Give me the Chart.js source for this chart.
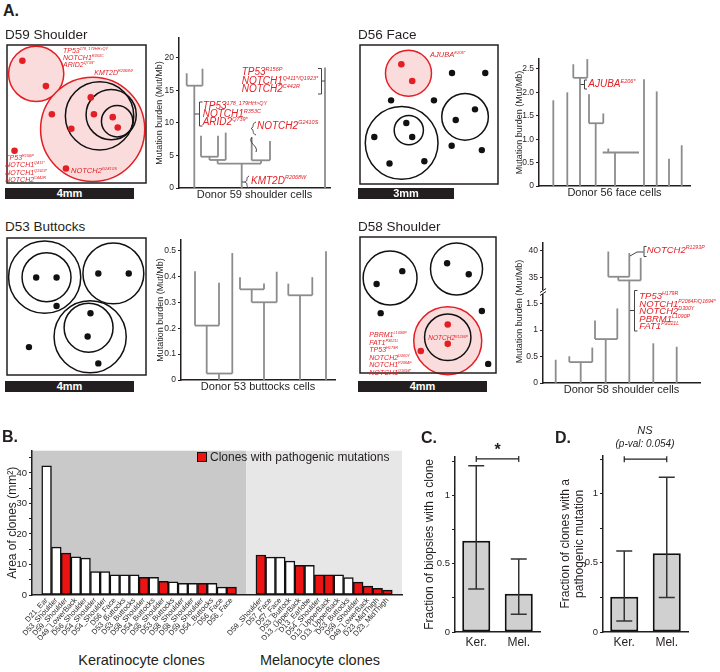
<!DOCTYPE html>
<html>
<head>
<meta charset="utf-8">
<title>Clone maps, mutation burden and clone sizes</title>
<script src="https://cdn.jsdelivr.net/npm/chart.js@4.4.1/dist/chart.umd.min.js"></script>
<style>
  body { margin: 0; background: #fff; }
  #page { position: relative; width: 720px; height: 672px; overflow: hidden;
          font-family: 'Liberation Sans', Arial, sans-serif; color: #231f20; }
  #page canvas { position: absolute; }
  .t { position: absolute; white-space: nowrap; }
  .g { position: absolute; white-space: nowrap; color: #e31e24; font-style: italic; }
  .s { font-size: 0.55em; position: relative; top: -0.75em; line-height: 0; }
  .sb { position: absolute; background: #231f20; color: #fff; font-weight: bold;
        font-size: 11px; text-align: center; }
  svg { position: absolute; left: 0; top: 0; }
</style>
</head>
<body>
<div id="page"></div>
<script>
// ---------------- Data --------------------------------------------------

// Panel A, clone maps: biopsy size (mm), clones [x, y, radius, pathogenic], cells [x, y]
const d59Size = [ 4.43, 4.40 ] ;
const d59Clones = [ [0.93,0.92,0.88,1], [2.73,2.69,1.66,1], [2.95,2.26,1.09,0], [3.32,2.22,0.80,0], [3.51,2.43,0.50,0] ] ;
const d59RedCells = [ [0.49,0.50], [1.24,1.31], [2.67,1.67], [1.43,2.21], [2.05,2.67], [2.77,2.21],
                      [3.37,2.30], [3.53,2.63], [1.88,3.94], [0.24,3.37] ] ;
const d59BlackCells = [] ;

const d56Size = [ 4.44, 4.47 ] ;
const d56Clones = [ [1.56,0.91,0.74,1], [1.34,3.15,1.17,0], [1.57,2.74,0.47,0], [3.38,2.31,0.75,0] ] ;
const d56RedCells = [ [1.33,0.62], [1.68,1.16] ] ;
const d56BlackCells = [ [2.96,0.90], [4.03,0.90], [1.00,1.78], [2.38,1.78], [3.70,2.07], [3.08,2.41], [1.49,2.51],
                        [1.68,2.96], [0.46,2.96], [2.95,3.24], [3.92,3.38], [0.95,3.81], [2.07,3.74] ] ;

const d53Size = [ 4.43, 4.37 ] ;
const d53Clones = [ [1.20,1.25,1.15,0], [1.26,1.25,0.78,0], [3.39,1.13,0.97,0], [2.65,3.15,1.15,0], [2.60,2.86,0.78,0] ] ;
const d53RedCells = [] ;
const d53BlackCells = [ [0.93,1.26], [1.58,1.26], [2.91,1.13], [3.88,1.13], [1.58,2.17], [2.66,2.40],
                        [2.57,3.14], [2.91,4.00], [0.70,3.48] ] ;

const d58Size = [ 4.34, 4.34 ] ;
const d58Clones = [ [0.96,1.31,0.86,0], [3.08,1.02,0.83,0], [2.80,3.31,1.085,1], [2.80,3.20,0.74,0] ] ;
const d58RedCells = [ [2.80,2.79], [2.80,3.41], [1.94,3.64] ] ;
const d58BlackCells = [ [1.35,1.09], [0.53,1.50], [2.78,0.84], [3.47,1.19], [0.66,2.43], [3.89,2.36], [4.09,4.05] ] ;

// Panel A, phylogenies: vertical branches [pos, from, to] and joins [burden, pos1, pos2] (Mut/Mb)
const d59Branches = [ [1.53,0,15.7], [0.77,15.7,17.6], [2.35,15.7,18.3],
                      [6.27,0,3.75], [3.86,3.75,4.3], [3.05,4.3,4.8], [2.2,4.8,8.0], [3.9,4.8,8.0], [4.67,4.3,8.5],
                      [8.2,3.75,4.25], [7.27,4.25,7.75], [9.1,4.25,7.2],
                      [14.6,0,18.5] ] ;
const d59Joins = [ [15.7,0.77,2.35], [3.75,3.86,8.2], [4.3,3.05,4.67], [4.8,2.2,3.9], [4.25,7.27,9.1] ] ;
const d59Ticks = [ 0, 5, 10, 15, 20 ] ;
const d59TickLabels = [ '0', '5', '10', '15', '20' ] ;

const d56Branches = [ [1.43,0,1.83], [2.83,0,2.0],
                      [4.1,0,2.31], [3.43,2.31,2.6], [4.83,2.31,2.71],
                      [5.67,0,1.34], [5.0,1.34,1.96], [6.43,1.34,1.55],
                      [7.6,0,0.715], [6.93,0.715,0.8],
                      [10.5,0,2.28], [11.77,0,2.02], [13.0,0,0.58], [14.27,0,0.87] ] ;
const d56Joins = [ [2.31,3.43,4.83], [1.34,5.0,6.43], [0.715,6.37,10.0] ] ;
const d56Ticks = [ 0, 0.5, 1, 1.5, 2, 2.5 ] ;
const d56TickLabels = [ '0', '0.5', '1.0', '1.5', '2.0', '2.5' ] ;

const d53Branches = [ [3.8,0,0.025], [5.13,0.025,0.49], [2.57,0.025,0.21], [1.4,0.21,0.42], [3.8,0.21,0.375],
                      [8.3,0,0.30], [9.57,0.30,0.418], [7.07,0.30,0.35], [5.9,0.35,0.397], [8.3,0.35,0.372],
                      [11.9,0,0.327], [10.73,0.327,0.372], [13.13,0.327,0.397],
                      [14.5,0,0.497] ] ;
const d53Joins = [ [0.025,2.57,5.13], [0.21,1.4,3.8], [0.30,7.07,9.57], [0.35,5.9,8.3], [0.327,10.73,13.13] ] ;
const d53Ticks = [ 0, 0.1, 0.2, 0.3, 0.4, 0.5 ] ;
const d53TickLabels = [ '0', '0.1', '0.2', '0.3', '0.4', '0.5' ] ;

const d58Branches = [ [1.27,0,0.44],
                      [3.77,0,0.395], [2.63,0.395,0.505], [4.93,0.395,0.67],
                      [6.27,0,0.83], [5.2,0.83,1.18], [7.43,0.83,1.41],
                      [8.63,0,34.4], [7.53,34.4,35.1], [6.53,35.1,39.9], [8.63,35.1,39.6], [9.77,34.4,38.7],
                      [11.03,0,0.75], [13.37,0,0.685] ] ;
const d58Joins = [ [0.395,2.63,4.93], [0.83,5.2,7.43], [34.4,7.53,9.77], [35.1,6.53,8.63] ] ;
const d58LowTicks = [ 0, 0.5, 1, 1.5 ] ;
const d58LowTickLabels = [ '0', '0.5', '1', '1.5' ] ;
const d58HighTicks = [ 35, 40 ] ;
const d58HighTickLabels = [ '35', '40' ] ;

// Panel B: clone areas (mm2)
const kerClones = [ 'D21_Ear', 'D53_Shoulder', 'D59_Shoulder', 'D49_LowerBack', 'D56_Shoulder', 'D54_Shoulder',
                    'D54_Shoulder', 'D56_Face', 'D53_Buttocks', 'D53_Buttocks', 'D58_Shoulder', 'D54_Buttocks',
                    'D56_Shoulder', 'D53_Buttocks', 'D58_Shoulder', 'D58_Shoulder', 'D59_Shoulder', 'D54_Buttocks',
                    'D56_Face', 'D56_Face' ] ;
const kerArea = [ 42.3, 15.7, 13.7, 12.5, 12.1, 7.7, 7.7, 6.6, 6.6, 6.6, 5.8, 5.8, 4.5, 4.3, 3.8, 3.8, 3.8, 3.8, 2.6, 2.6 ] ;
const kerPathogenic = [ 0, 0, 1, 0, 0, 0, 0, 0, 0, 0, 1, 0, 1, 0, 0, 0, 1, 0, 0, 1 ] ;
const melClones = [ 'D59_Shoulder', 'D57_Face', 'D57_Face', 'D53_Buttock', 'D13_UpperBack', 'D13_Earlobe',
                    'D54_Shoulder', 'D13_UpperBack', 'D13_UpperBack', 'D53_Buttocks', 'D59_Shoulder',
                    'D49_LowerBack', 'D23_MidThigh', 'D23_MidThigh' ] ;
const melArea = [ 13.1, 12.4, 12.4, 11.1, 9.7, 9.7, 6.6, 6.6, 6.6, 5.7, 4.2, 2.9, 2.2, 1.6 ] ;
const melPathogenic = [ 1, 0, 0, 0, 1, 0, 1, 1, 0, 0, 1, 1, 1, 1 ] ;
const areaTicks = [ 0, 5, 10, 15, 20, 25, 30, 35, 40, 45 ] ;
const areaTickLabels = [ '0', '', '10', '', '20', '', '30', '', '40', '' ] ;

// Panels C and D
const cellTypes = [ 'Ker.', 'Mel.' ] ;
const biopsyFrac = [ 0.67, 0.28 ] ;
const biopsyLow  = [ 0.315, 0.13 ] ;
const biopsyHigh = [ 1.22, 0.535 ] ;
const pathoFrac  = [ 0.255, 0.57 ] ;
const pathoLow   = [ 0.08, 0.25 ] ;
const pathoHigh  = [ 0.585, 1.12 ] ;
const fracTicks = [ 0, 0.25, 0.5, 0.75, 1, 1.25 ] ;
const fracTickLabels = [ '0', '', '0.5', '', '1', '' ] ;

// ---------------- Styles ------------------------------------------------
const INK  = '#231f20' ;
const RED  = '#e31e24' ;
const PINK = '#fbdcdc' ;
const TREE = '#8c8c8c' ;
const BAR_RED = '#ee1313' ;
const FONT = "'Liberation Sans', Arial, sans-serif" ;

Chart.defaults.font.family = FONT ;
Chart.defaults.color = INK ;
Chart.defaults.animation = false ;
Chart.defaults.plugins.legend.display = false ;
Chart.defaults.plugins.tooltip.enabled = false ;

const page = document.getElementById( 'page' ) ;

// canvas whose chart area lands on (L,T)-(R,B)
function frame( L, T, R, B, left, bottom, top, right ) {
    const c = document.createElement( 'canvas' ) ;
    const w = Math.round( R - L + left + right ) ;
    const h = Math.round( B - T + top + bottom ) ;
    c.width = w ; c.height = h ;
    c.style.left = ( L - left ) + 'px' ;
    c.style.top  = ( T - top ) + 'px' ;
    c.style.width = w + 'px' ; c.style.height = h + 'px' ;
    page.appendChild( c ) ;
    return c ;
}

function yAxis( min, max, ticks, labels, width, size, title, titleSize, extra ) {
    return Object.assign( {
        type : 'linear', position : 'left', min : min, max : max,
        afterBuildTicks : s => { s.ticks = ticks.map( v => ( { value : v } ) ) ; },
        afterFit : s => { s.width = width ; },
        ticks : { callback : ( v, i ) => labels[i], font : { size : size }, padding : 2, color : INK, autoSkip : false },
        grid : { drawOnChartArea : false, tickLength : 3, color : INK },
        border : { color : INK, width : 1.5 },
        title : title ? { display : true, text : title, font : { size : titleSize }, padding : 0, color : INK }
                      : { display : false }
    }, extra || {} ) ;
}

// ---------------- Clone maps --------------------------------------------
const clonePlugin = {
    id : 'clones',
    beforeDatasetsDraw( chart, args, opts ) {
        const { ctx, scales : { x, y } } = chart ;
        ctx.save() ;
        opts.clones.forEach( c => {
            const cx = x.getPixelForValue( c[0] ), cy = y.getPixelForValue( c[1] ) ;
            const r = x.getPixelForValue( c[0] + c[2] ) - cx ;
            ctx.beginPath() ;
            ctx.arc( cx, cy, r, 0, Math.PI * 2 ) ;
            if( c[3] ) { ctx.fillStyle = PINK ; ctx.fill() ; }
            ctx.lineWidth = 1.5 ;
            ctx.strokeStyle = c[3] ? RED : '#111' ;
            ctx.stroke() ;
        } ) ;
        ctx.restore() ;
    },
    afterDraw( chart ) {
        const { ctx, chartArea : a } = chart ;
        ctx.save() ;
        ctx.lineWidth = 1.5 ;
        ctx.strokeStyle = INK ;
        ctx.strokeRect( a.left, a.top, a.right - a.left, a.bottom - a.top ) ;
        ctx.restore() ;
    }
} ;

function cloneMap( L, T, R, B, size, clones, redCells, blackCells ) {
    const c = frame( L, T, R, B, 2, 2, 2, 2 ) ;
    const pts = a => a.map( p => ( { x : p[0], y : p[1] } ) ) ;
    new Chart( c, {
        type : 'scatter',
        data : { datasets : [
            { data : pts( blackCells ), backgroundColor : '#111', pointRadius : 3.2, borderWidth : 0 },
            { data : pts( redCells ), backgroundColor : RED, pointRadius : 3.3, borderWidth : 0 }
        ] },
        options : {
            responsive : false, devicePixelRatio : 1,
            layout : { padding : 2 },
            scales : {
                x : { type : 'linear', display : false, min : 0, max : size[0] },
                y : { type : 'linear', display : false, min : 0, max : size[1], reverse : true }
            },
            plugins : { clones : { clones : clones } }
        },
        plugins : [ clonePlugin ]
    } ) ;
}

cloneMap( 5, 43, 148, 185, d59Size, d59Clones, d59RedCells, d59BlackCells ) ;
cloneMap( 358, 43, 500, 186, d56Size, d56Clones, d56RedCells, d56BlackCells ) ;
cloneMap( 5, 236, 148, 377, d53Size, d53Clones, d53RedCells, d53BlackCells ) ;
cloneMap( 358, 235, 498, 375, d58Size, d58Clones, d58RedCells, d58BlackCells ) ;

// ---------------- Phylogenies -------------------------------------------
const breakPlugin = {
    id : 'axisBreak',
    afterDraw( chart, args, opts ) {
        if( !opts.on ) return ;
        const { ctx, scales : { y } } = chart ;
        const ax = y.right, yb = y.top ;
        ctx.save() ;
        ctx.fillStyle = '#fff' ;
        ctx.fillRect( ax - 3, yb - 2, 6, 4 ) ;
        ctx.strokeStyle = INK ; ctx.lineWidth = 1 ;
        ctx.beginPath() ;
        ctx.moveTo( ax - 3, yb + 0.5 ) ; ctx.lineTo( ax + 3, yb - 3.5 ) ;
        ctx.moveTo( ax - 3, yb + 3.5 ) ; ctx.lineTo( ax + 3, yb - 0.5 ) ;
        ctx.stroke() ;
        ctx.restore() ;
    }
} ;

function phylogeny( o ) {
    const c = frame( o.L, o.T, o.R, o.B, o.yW, o.xH, o.padT, o.padR ) ;
    const datasets = [] ;
    const seg = ( pts, axis ) => datasets.push( {
        data : pts, showLine : true, borderColor : TREE, borderWidth : 1.8,
        pointRadius : 0, yAxisID : axis
    } ) ;
    const axisOf = v => ( o.lowMax !== undefined && v > o.lowMax ) ? 'yUp' : 'y' ;
    o.branches.forEach( ( [ x, y0, y1 ] ) => {
        if( o.lowMax !== undefined && y0 < o.lowMax && y1 > o.lowMax ) {
            seg( [ { x : x, y : y0 }, { x : x, y : o.lowMax } ], 'y' ) ;
            seg( [ { x : x, y : o.upMin }, { x : x, y : y1 } ], 'yUp' ) ;
        }
        else {
            seg( [ { x : x, y : y0 }, { x : x, y : y1 } ], axisOf( y1 ) ) ;
        }
    } ) ;
    o.joins.forEach( ( [ y, x0, x1 ] ) => seg( [ { x : x0, y : y }, { x : x1, y : y } ], axisOf( y ) ) ) ;

    const scales = {} ;
    if( o.upTicks ) {
        // stacked scales: the one declared last sits on top
        scales.y = yAxis( 0, o.lowMax, o.ticks, o.labels, o.yW, o.tickSize, null, 0,
                          { stack : 'burden', stackWeight : o.lowWeight } ) ;
        scales.yUp = yAxis( o.upMin, o.upMax, o.upTicks, o.upLabels, o.yW, o.tickSize, null, 0,
                            { stack : 'burden', stackWeight : o.upWeight } ) ;
    }
    else {
        scales.y = yAxis( 0, o.yMax, o.ticks, o.labels, o.yW, o.tickSize, 'Mutation burden (Mut/Mb)', o.titleSize ) ;
    }
    scales.x = {
        type : 'linear', min : 0, max : o.xMax,
        afterFit : s => { s.height = o.xH ; },
        ticks : { display : false },
        grid : { display : false, drawTicks : false },
        border : { color : INK, width : 1.5 },
        title : { display : true, text : o.xTitle, font : { size : 11 }, padding : 0, color : INK }
    } ;
    new Chart( c, {
        type : 'scatter',
        data : { datasets : datasets },
        options : {
            responsive : false, devicePixelRatio : 1,
            layout : { padding : { top : o.padT, right : o.padR, left : 0, bottom : 0 } },
            scales : scales,
            plugins : { axisBreak : { on : !!o.upTicks } }
        },
        plugins : [ breakPlugin ]
    } ) ;
}

phylogeny( { L : 179, T : 35, R : 330, B : 188, yW : 25, xH : 14, padT : 4, padR : 4,
             xMax : 15.1, yMax : 23, ticks : d59Ticks, labels : d59TickLabels, tickSize : 8.5, titleSize : 9,
             branches : d59Branches, joins : d59Joins, xTitle : 'Donor 59 shoulder cells' } ) ;
phylogeny( { L : 539, T : 56, R : 690, B : 186, yW : 25, xH : 14, padT : 4, padR : 4,
             xMax : 15.1, yMax : 2.71, ticks : d56Ticks, labels : d56TickLabels, tickSize : 8.5, titleSize : 9,
             branches : d56Branches, joins : d56Joins, xTitle : 'Donor 56 face cells' } ) ;
phylogeny( { L : 181, T : 237, R : 335, B : 380, yW : 26, xH : 14, padT : 4, padR : 4,
             xMax : 15.4, yMax : 0.54, ticks : d53Ticks, labels : d53TickLabels, tickSize : 8.5, titleSize : 9,
             branches : d53Branches, joins : d53Joins, xTitle : 'Donor 53 buttocks cells' } ) ;
phylogeny( { L : 543, T : 240, R : 700, B : 383, yW : 29, xH : 14, padT : 4, padR : 4,
             xMax : 15.7, lowMax : 1.72, upMin : 32.2, upMax : 41.5, lowWeight : 93, upWeight : 50,
             ticks : d58LowTicks, labels : d58LowTickLabels, upTicks : d58HighTicks, upLabels : d58HighTickLabels,
             tickSize : 8.5, branches : d58Branches, joins : d58Joins, xTitle : 'Donor 58 shoulder cells' } ) ;

// ---------------- Panel B -----------------------------------------------
const shadePlugin = {
    id : 'shade',
    beforeDraw( chart, args, opts ) {
        const { ctx, chartArea : a, scales : { x } } = chart ;
        const split = x.getPixelForValue( opts.split ) ;
        ctx.save() ;
        ctx.fillStyle = '#c9c9c9' ;
        ctx.fillRect( a.left, a.top, split - a.left, a.bottom - a.top ) ;
        ctx.fillStyle = '#e7e7e7' ;
        ctx.fillRect( split, a.top, a.right - split, a.bottom - a.top ) ;
        ctx.restore() ;
    }
} ;

const cloneLabels = [ '' ].concat( kerClones, [ '', '' ], melClones, [ '' ] ) ;
const cloneAreas  = [ null ].concat( kerArea, [ null, null ], melArea, [ null ] ) ;
const cloneFlags  = [ 0 ].concat( kerPathogenic, [ 0, 0 ], melPathogenic, [ 0 ] ) ;

new Chart( frame( 32, 446, 402, 595, 27, 45, 3, 3 ), {
    type : 'bar',
    data : {
        labels : cloneLabels,
        datasets : [ {
            data : cloneAreas,
            backgroundColor : cloneFlags.map( f => f ? BAR_RED : '#ffffff' ),
            borderColor : '#111', borderWidth : 1.5, borderSkipped : false,
            barPercentage : 1, categoryPercentage : 1
        } ]
    },
    options : {
        responsive : false, devicePixelRatio : 1,
        layout : { padding : { top : 3, right : 3, left : 0, bottom : 0 } },
        scales : {
            y : yAxis( 0, 47.3, areaTicks, areaTickLabels, 27, 9.5, 'Area of clones (mm²)', 12 ),
            x : {
                afterFit : s => { s.height = 45 ; },
                ticks : { font : { size : 7.5 }, minRotation : 48, maxRotation : 48, autoSkip : false, padding : 1, color : INK },
                grid : { display : false, drawTicks : false },
                border : { color : INK, width : 1.5 }
            }
        },
        plugins : { shade : { split : 21.5 } }
    },
    plugins : [ shadePlugin ]
} ) ;

// ---------------- Panels C and D ----------------------------------------
const errorPlugin = {
    id : 'errors',
    afterDatasetsDraw( chart, args, opts ) {
        const { ctx, scales : { y } } = chart ;
        const bars = chart.getDatasetMeta( 0 ).data ;
        ctx.save() ;
        ctx.strokeStyle = '#333' ; ctx.lineWidth = 1.5 ;
        bars.forEach( ( b, i ) => {
            const lo = y.getPixelForValue( opts.low[i] ), hi = y.getPixelForValue( opts.high[i] ) ;
            ctx.beginPath() ;
            ctx.moveTo( b.x, lo ) ; ctx.lineTo( b.x, hi ) ;
            ctx.moveTo( b.x - 8, lo ) ; ctx.lineTo( b.x + 8, lo ) ;
            ctx.moveTo( b.x - 8, hi ) ; ctx.lineTo( b.x + 8, hi ) ;
            ctx.stroke() ;
        } ) ;
        // comparison bracket
        const yb = y.getPixelForValue( opts.bracket ) ;
        ctx.strokeStyle = INK ; ctx.lineWidth = 1.2 ;
        ctx.beginPath() ;
        ctx.moveTo( bars[0].x, yb ) ; ctx.lineTo( bars[1].x, yb ) ;
        ctx.moveTo( bars[0].x, yb - 3 ) ; ctx.lineTo( bars[0].x, yb + 3 ) ;
        ctx.moveTo( bars[1].x, yb - 3 ) ; ctx.lineTo( bars[1].x, yb + 3 ) ;
        ctx.stroke() ;
        ctx.restore() ;
    }
} ;

function fractionChart( L, T, R, B, yW, values, low, high, yMax, title, bracket ) {
    new Chart( frame( L, T, R, B, yW, 20, 3, 3 ), {
        type : 'bar',
        data : {
            labels : cellTypes,
            datasets : [ {
                data : values, backgroundColor : '#d0d0d0', borderColor : '#111',
                borderWidth : 2, borderSkipped : false, barPercentage : 0.66, categoryPercentage : 1
            } ]
        },
        options : {
            responsive : false, devicePixelRatio : 1,
            layout : { padding : { top : 3, right : 3, left : 0, bottom : 0 } },
            scales : {
                y : yAxis( 0, yMax, fracTicks, fracTickLabels, yW, 9.5, title, 12 ),
                x : {
                    afterFit : s => { s.height = 20 ; },
                    ticks : { font : { size : 12 }, padding : 3, color : INK },
                    grid : { display : false, drawTicks : false },
                    border : { color : INK, width : 1.5 }
                }
            },
            plugins : { errors : { low : low, high : high, bracket : bracket } }
        },
        plugins : [ errorPlugin ]
    } ) ;
}

fractionChart( 455, 452, 540, 632, 33, biopsyFrac, biopsyLow, biopsyHigh, 1.286,
               'Fraction of biopsies with a clone', 1.27 ) ;
fractionChart( 603, 451, 688, 632, 45, pathoFrac, pathoLow, pathoHigh, 1.275,
               [ 'Fraction of clones with a', 'pathogenic mutation' ], 1.25 ) ;

// ---------------- Text ---------------------------------------------------
function txt( html, x, base, size, style ) {
    const d = document.createElement( 'div' ) ;
    d.className = 't' ;
    d.innerHTML = html ;
    d.style.fontSize = size + 'px' ;
    d.style.lineHeight = size + 'px' ;
    d.style.left = x + 'px' ;
    d.style.top = ( base - size / 2 - 0.3465 * size ) + 'px' ;
    if( style ) d.style.cssText += style ;
    page.appendChild( d ) ;
    return d ;
}

function gene( x, base, size, lh, lines ) {
    const d = document.createElement( 'div' ) ;
    d.className = 'g' ;
    d.style.fontSize = size + 'px' ;
    d.style.lineHeight = lh + 'px' ;
    d.style.left = x + 'px' ;
    d.style.top = ( base - lh / 2 - 0.3465 * size ) + 'px' ;
    d.innerHTML = lines.map( l => l[0] + '<span class="s">' + l[1] + '</span>' ).join( '<br>' ) ;
    page.appendChild( d ) ;
}

function scaleBar( x, y, w, label ) {
    const d = document.createElement( 'div' ) ;
    d.className = 'sb' ;
    Object.assign( d.style, { left : x + 'px', top : y + 'px', width : w + 'px', height : '11px', lineHeight : '11px' } ) ;
    d.textContent = label ;
    page.appendChild( d ) ;
}

txt( 'A.', 3, 16.7, 16, 'font-weight:bold' ) ;
txt( 'B.', 2, 443, 16, 'font-weight:bold' ) ;
txt( 'C.', 421, 443.5, 16, 'font-weight:bold' ) ;
txt( 'D.', 555, 444, 16, 'font-weight:bold' ) ;

txt( 'D59 Shoulder', 5, 39, 13.5 ) ;
txt( 'D56 Face', 358, 39, 13.5 ) ;
txt( 'D53 Buttocks', 5, 231, 13.5 ) ;
txt( 'D58 Shoulder', 358, 231.5, 13.5 ) ;

scaleBar( 5, 188, 129, '4mm' ) ;
scaleBar( 358, 188, 96, '3mm' ) ;
scaleBar( 5, 381, 129, '4mm' ) ;
scaleBar( 358, 381, 129, '4mm' ) ;

// D58 broken axis title
const t58 = txt( 'Mutation burden (Mut/Mb)', 519, 311, 9,
                 'transform:translate(-50%,0) rotate(-90deg);transform-origin:50% 50%;' ) ;
t58.style.left = '519px' ;
t58.style.top = ( 311 - 4.5 ) + 'px' ;

// gene annotations
gene( 63, 52.7, 7, 7.3, [ [ 'TP53', '178_179HH>QY' ], [ 'NOTCH1', 'R353C' ], [ 'ARID2', 'Q739*' ] ] ) ;
gene( 94.3, 75, 7, 7, [ [ 'KMT2D', 'R2068W' ] ] ) ;
gene( 5.3, 160, 7, 7.4, [ [ 'TP53', 'R156P' ], [ 'NOTCH1', 'Q411*' ], [ 'NOTCH1', 'Q1923*' ], [ 'NOTCH2', 'C442R' ] ] ) ;
gene( 71, 173.3, 7.5, 7.5, [ [ 'NOTCH2', 'G2410S' ] ] ) ;
gene( 241.7, 76, 10, 8.2, [ [ 'TP53', 'R156P' ], [ 'NOTCH1', 'Q411*/Q1923*' ], [ 'NOTCH2', 'C442R' ] ] ) ;
gene( 202.7, 109.3, 10, 8.2, [ [ 'TP53', '178_179HH>QY' ], [ 'NOTCH1', 'R353C' ], [ 'ARID2', 'Q739*' ] ] ) ;
gene( 257, 129, 10, 10, [ [ 'NOTCH2', 'G2410S' ] ] ) ;
gene( 251, 184, 10, 10, [ [ 'KMT2D', 'R2068W' ] ] ) ;

gene( 430, 57.7, 7.5, 7.5, [ [ 'AJUBA', 'E206*' ] ] ) ;
gene( 588.3, 87.3, 10, 10, [ [ 'AJUBA', 'E206*' ] ] ) ;

gene( 428.3, 341, 6.5, 6.5, [ [ 'NOTCH2', 'R1293P' ] ] ) ;
gene( 369.3, 337.3, 7, 7.5, [ [ 'PBRM1', 'L1090P' ], [ 'FAT1', 'P3021L' ], [ 'TP53', 'H179R' ],
                               [ 'NOTCH2', 'D300Y' ], [ 'NOTCH1', 'P2064F' ], [ 'NOTCH1', 'Q1694*' ] ] ) ;
gene( 646.7, 252.7, 9.5, 9.5, [ [ 'NOTCH2', 'R1293P' ] ] ) ;
gene( 639.3, 299, 9.5, 7.6, [ [ 'TP53', 'H179R' ], [ 'NOTCH1', 'P2064F/Q1694*' ], [ 'NOTCH2', 'D300Y' ],
                              [ 'PBRM1', 'L1090P' ], [ 'FAT1', 'P3021L' ] ] ) ;

// panel B legend and group names
const sw = document.createElement( 'div' ) ;
Object.assign( sw.style, { position : 'absolute', left : '197px', top : '452px', width : '8px', height : '8px',
                           background : BAR_RED, border : '1px solid #111' } ) ;
page.appendChild( sw ) ;
txt( 'Clones with pathogenic mutations', 210, 461, 12 ) ;
txt( 'Keratinocyte clones', 141.5, 665, 14.5, 'transform:translateX(-50%)' ) ;
txt( 'Melanocyte clones', 320, 665, 14.5, 'transform:translateX(-50%)' ) ;

// significance
txt( '*', 497.5, 456, 16, 'transform:translateX(-50%);font-weight:bold' ) ;
txt( 'NS', 645, 434.5, 11, 'transform:translateX(-50%);font-style:italic' ) ;
txt( '(p-val: 0.054)', 645, 447, 10, 'transform:translateX(-50%);font-style:italic' ) ;

// annotation brackets
page.insertAdjacentHTML( 'beforeend',
  '<svg width="720" height="672" fill="none" stroke="#444" stroke-width="1">' +
  '<path d="M318,68.5 H321.5 V94 H318 M321.5,81 H325"/>' +
  '<path d="M202.5,102 H199.5 V126 H202.5 M199.5,114 H194.5"/>' +
  '<path d="M256,122 C251,124 255,127 251,128.5 C255,130 251,133 256,135"/>' +
  '<path d="M252,137 C247,143 259,146 256,152"/>' +
  '<path d="M249,176 C245,178 249,181 244.5,182 C249,183 245,186 249,188 M244.5,182 H242"/>' +
  '<path d="M587,80 H584.5 V89 H587 M584.5,84.5 H580.5"/>' +
  '<path d="M630,256 L637,252 H643.5 M646.5,246.5 H644 V256.5 H646.5"/>' +
  '<path d="M637.5,290.5 H634.5 V331 H637.5 M634.5,310.5 H630"/>' +
  '</svg>' ) ;
</script>
</body>
</html>
